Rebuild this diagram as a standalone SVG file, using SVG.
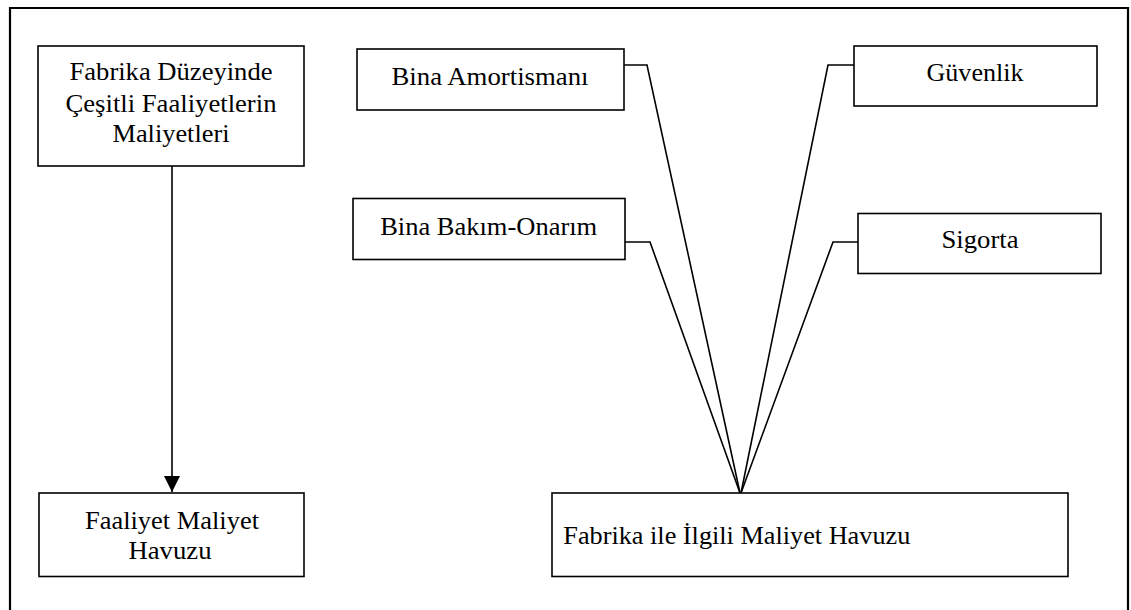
<svg xmlns="http://www.w3.org/2000/svg" width="1131" height="610" viewBox="0 0 1131 610">
  <style>
    .box { fill: #ffffff; stroke: #000000; stroke-width: 1.6; }
    .frame { fill: none; stroke: #000000; stroke-width: 2.2; }
    .lbl { font-family: "Liberation Serif", "Times New Roman", serif; font-size: 25px; fill: #000000; }
    .mid { text-anchor: middle; }
    .wire { fill: none; stroke: #000000; stroke-width: 1.6; stroke-linejoin: miter; }
  </style>
  <defs>
    <marker id="arrowHead" viewBox="0 0 16 16" refX="16" refY="8" markerWidth="16" markerHeight="16" markerUnits="userSpaceOnUse" orient="auto">
      <path d="M0,0 L16,8 L0,16 Z" fill="#000000"/>
    </marker>
  </defs>

  <rect width="1131" height="610" fill="#ffffff"/>

  <!-- outer frame (open at the bottom edge of the page) -->
  <path class="frame" d="M10,620 L10,8 L1128,8 L1128,620"/>

  <!-- connectors -->
  <g id="connectors">
    <path class="wire" d="M172,166 L172,492" marker-end="url(#arrowHead)"/>
    <path class="wire" d="M624,65 L647,65 L740,493"/>
    <path class="wire" d="M625,242 L650,242 L740,493"/>
    <path class="wire" d="M854,65 L828,65 L741,493"/>
    <path class="wire" d="M858,242 L833,242 L741,493"/>
  </g>

  <g id="node-factory-activities">
    <rect class="box" x="38" y="46" width="266" height="120"/>
    <text class="lbl mid" x="171" y="80" textLength="203" lengthAdjust="spacingAndGlyphs">Fabrika Düzeyinde</text>
    <text class="lbl mid" x="171" y="111.5" textLength="211" lengthAdjust="spacingAndGlyphs">Çeşitli Faaliyetlerin</text>
    <text class="lbl mid" x="171" y="142" textLength="117" lengthAdjust="spacingAndGlyphs">Maliyetleri</text>
  </g>

  <g id="node-activity-pool">
    <rect class="box" x="39" y="493" width="265" height="83.5"/>
    <text class="lbl mid" x="172" y="528.5" textLength="174" lengthAdjust="spacingAndGlyphs">Faaliyet Maliyet</text>
    <text class="lbl mid" x="170" y="558.5" textLength="83" lengthAdjust="spacingAndGlyphs">Havuzu</text>
  </g>

  <g id="node-depreciation">
    <rect class="box" x="357" y="49" width="267" height="61"/>
    <text class="lbl mid" x="490" y="85" textLength="197" lengthAdjust="spacingAndGlyphs">Bina Amortismanı</text>
  </g>

  <g id="node-maintenance">
    <rect class="box" x="353" y="198.5" width="272" height="61"/>
    <text class="lbl mid" x="488.7" y="235" textLength="217" lengthAdjust="spacingAndGlyphs">Bina Bakım-Onarım</text>
  </g>

  <g id="node-security">
    <rect class="box" x="854" y="46" width="243" height="60"/>
    <text class="lbl mid" x="975" y="80.7" textLength="97" lengthAdjust="spacingAndGlyphs">Güvenlik</text>
  </g>

  <g id="node-insurance">
    <rect class="box" x="858" y="213.5" width="243" height="60"/>
    <text class="lbl mid" x="980" y="248.3" textLength="77" lengthAdjust="spacingAndGlyphs">Sigorta</text>
  </g>

  <g id="node-factory-pool">
    <rect class="box" x="552" y="493" width="516" height="83.5"/>
    <text class="lbl" x="563.3" y="544" textLength="347" lengthAdjust="spacingAndGlyphs">Fabrika ile İlgili Maliyet Havuzu</text>
  </g>
</svg>
